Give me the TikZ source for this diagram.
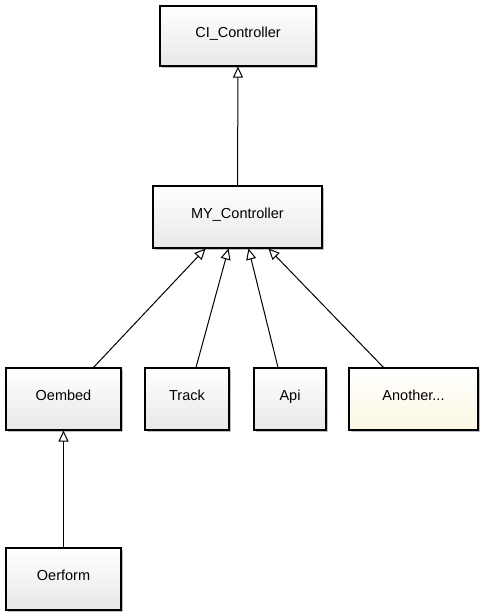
\documentclass[tikz,border=0pt]{standalone}
\usepackage{fontspec}
\setmainfont{Liberation Sans}
\usetikzlibrary{arrows.meta,shadows}
\definecolor{cream}{RGB}{252,247,226}
\begin{document}
\begin{tikzpicture}[x=1pt,y=-1pt,
  cls/.style={draw=black, line width=1.1pt, top color=white, bottom color=gray!18,
    drop shadow={shadow xshift=2pt, shadow yshift=-2pt, fill=black, opacity=0.25},
    inner sep=0pt, font=\fontsize{14.5}{17}\selectfont, text height=11pt, text depth=9pt, anchor=center},
  yel/.style={top color=white, bottom color=cream},
  inh/.style={draw=black, line width=1pt, -{Triangle[open, length=11pt, width=10pt, fill=white]}}
]
\useasboundingbox (0,0) rectangle (483,616);
\node[cls, minimum width=156pt, minimum height=60pt] (ci) at (238,36) {CI\_Controller};
\node[cls, minimum width=169pt, minimum height=62pt] (my) at (237.5,217) {MY\_Controller};
\node[cls, minimum width=115pt, minimum height=62pt] (oe) at (63.5,399) {Oembed};
\node[cls, minimum width=84pt, minimum height=62pt] (tr) at (187,399) {Track};
\node[cls, minimum width=72pt, minimum height=62pt] (api) at (290,399) {Api};
\node[cls, yel, minimum width=129pt, minimum height=62pt] (an) at (413.5,399) {Another...};
\node[cls, minimum width=115pt, minimum height=62pt] (of) at (63.5,579) {Oerform};

\draw[inh] (my.north) -- (ci.south);
\draw[inh] ([xshift=30pt]oe.north) -- ([xshift=-32pt]my.south);
\draw[inh] ([xshift=9pt]tr.north) -- ([xshift=-9pt]my.south);
\draw[inh] ([xshift=-12pt]api.north) -- ([xshift=11pt]my.south);
\draw[inh] ([xshift=-30pt]an.north) -- ([xshift=31pt]my.south);
\draw[inh] (of.north) -- (oe.south);
\end{tikzpicture}
\end{document}
